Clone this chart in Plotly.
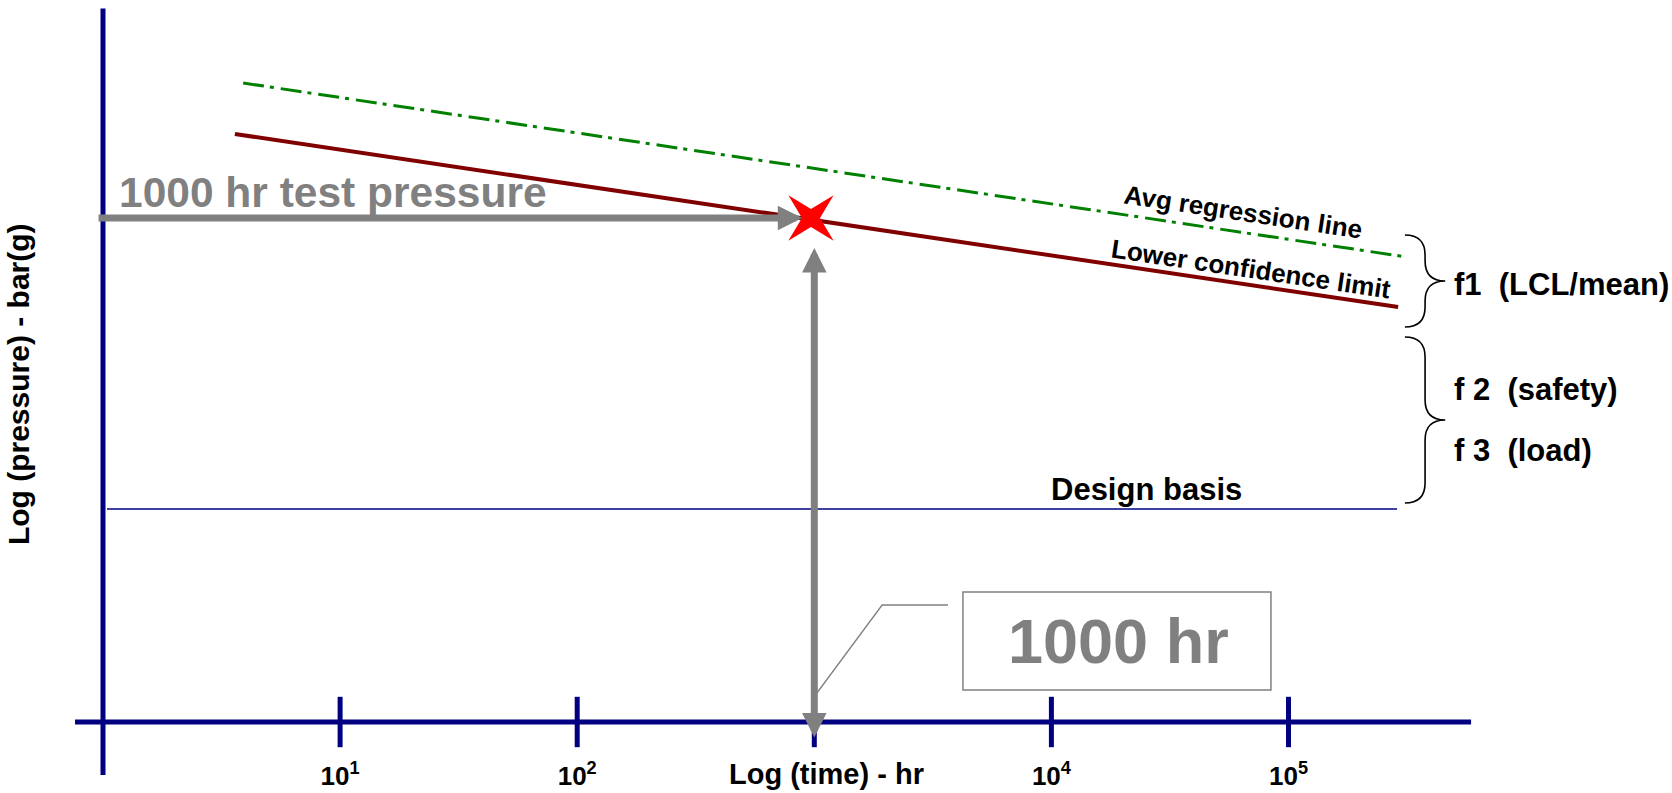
import numpy as np
import plotly.graph_objects as go

# ---------------------------------------------------------------- data
# decades on the time axis (hours) and their labels
decade_hours = [10, 100, 1000, 10000, 100000]
decade_labels = ["10<sup>1</sup>", "10<sup>2</sup>", "", "10<sup>4</sup>", "10<sup>5</sup>"]

# average regression line and lower confidence limit (relative log pressure)
avg_hours = [3.9, 315000]
avg_logp = [6.39, 4.65]
lcl_hours = [3.6, 290000]
lcl_logp = [5.88, 4.15]

# 1000 hr test point
test_hours = 1000
test_logp = 5.04

# design basis level
design_hours = [1.04, 287000]
design_logp = 2.13

# ---------------------------------------------------------------- style
NAVY = "#000080"
GREY = "#808080"
FONT = "Liberation Sans, Arial, sans-serif"

# plot scale: pixels per decade of time and per unit of log pressure
PX_X = 237.1
PX_Y = 100.0

lx = np.log10  # the horizontal axis is log(time)

fig = go.Figure()

# tick marks crossing the time axis
fig.add_trace(go.Scatter(
    x=lx(decade_hours), y=[0] * len(decade_hours), mode="markers",
    marker=dict(symbol="line-ns-open", size=36, color=NAVY,
                line=dict(width=5, color=NAVY)),
    hoverinfo="skip", showlegend=False))

# decade labels (the 1000 hr decade carries the axis title instead)
lab_x = [lx(h) for h, t in zip(decade_hours, decade_labels) if t]
lab_t = [f"<b>{t}</b>" for t in decade_labels if t]
fig.add_trace(go.Scatter(
    x=lab_x, y=[-0.56] * len(lab_x), mode="text", text=lab_t,
    textfont=dict(family=FONT, size=26, color="black"),
    hoverinfo="skip", showlegend=False))

# average regression line
fig.add_trace(go.Scatter(
    x=lx(avg_hours), y=avg_logp, mode="lines",
    line=dict(color="#008000", width=3, dash="21px,6px,4px,7px"),
    hoverinfo="skip", showlegend=False))

# lower confidence limit
fig.add_trace(go.Scatter(
    x=lx(lcl_hours), y=lcl_logp, mode="lines",
    line=dict(color="#800000", width=4),
    hoverinfo="skip", showlegend=False))


def star_path(xc, yc, r_out=32.0, r_in=9.0):
    """Four-pointed star (points on the diagonals) around a data point,
    sized in screen pixels."""
    pts = []
    for k in range(8):
        ang = np.pi / 4 + k * np.pi / 4
        r = r_out if k % 2 == 0 else r_in
        pts.append((xc + r * np.cos(ang) / PX_X, yc + r * np.sin(ang) / PX_Y))
    return "M " + " L ".join(f"{x:.5f},{y:.5f}" for x, y in pts) + " Z"


def brace(x_left, y_top, y_bot, width=0.17, r=0.2):
    """Right-facing curly brace as an SVG path in data units."""
    xm = x_left + width / 2
    xt = x_left + width
    ym = (y_top + y_bot) / 2
    return (f"M {x_left},{y_top} Q {xm},{y_top} {xm},{y_top - r} "
            f"L {xm},{ym + r} Q {xm},{ym} {xt},{ym} "
            f"Q {xm},{ym} {xm},{ym - r} "
            f"L {xm},{y_bot + r} Q {xm},{y_bot} {x_left},{y_bot}")


shapes = [
    # axes
    dict(type="line", x0=0, x1=0, y0=-0.53, y1=7.135,
         line=dict(color=NAVY, width=5), layer="below"),
    dict(type="line", x0=-0.118, x1=5.77, y0=0, y1=0,
         line=dict(color=NAVY, width=5), layer="below"),
    # design basis
    dict(type="line", x0=lx(design_hours[0]), x1=lx(design_hours[1]),
         y0=design_logp, y1=design_logp,
         line=dict(color=NAVY, width=1.6), layer="below"),
    # braces
    dict(type="path", path=brace(5.491, 4.87, 3.95),
         line=dict(color="black", width=1.6)),
    dict(type="path", path=brace(5.491, 3.85, 2.19),
         line=dict(color="black", width=1.6)),
    # callout box and leader
    dict(type="rect", x0=3.627, x1=4.926, y0=0.32, y1=1.30,
         line=dict(color=GREY, width=1.5)),
    dict(type="path", path="M 3.564,1.17 L 3.286,1.17 L 3.011,0.29",
         line=dict(color=GREY, width=1.3)),
    # test point star
    dict(type="path", path=star_path(lx(test_hours) - 0.014, test_logp),
         fillcolor="#FF0000", line=dict(width=0), layer="above"),
]


def label(text, x, y, size, color="black", angle=0, xanchor="center"):
    return dict(text=f"<b>{text}</b>", x=x, y=y, xref="x", yref="y",
                showarrow=False, textangle=angle, xanchor=xanchor,
                yanchor="middle",
                font=dict(family=FONT, size=size, color=color))


NB = "\u00a0"
annotations = [
    label("1000 hr test pressure", 0.06, 5.30, 42.5, GREY, xanchor="left"),
    label("Avg regression line", 4.808, 5.10, 26, angle=8.5),
    label("Lower confidence limit", 4.842, 4.53, 26, angle=8.4),
    label("Design basis", 4.403, 2.33, 31),
    label(f"f1{NB}{NB}(LCL/mean)", 5.69, 4.38, 31, xanchor="left"),
    label(f"f 2{NB}{NB}(safety)", 5.69, 3.33, 31, xanchor="left"),
    label(f"f 3{NB}{NB}(load)", 5.69, 2.72, 31, xanchor="left"),
    label("1000 hr", 4.281, 0.81, 63, GREY),
    label("Log (time) - hr", 3.05, -0.52, 29),
    label("Log (pressure) - bar(g)", -0.358, 3.38, 30, angle=-90),
    # arrow from the pressure axis to the test point
    dict(x=lx(test_hours), y=test_logp, ax=-0.025, ay=test_logp,
         xref="x", yref="y", axref="x", ayref="y", text="",
         showarrow=True, arrowhead=2, arrowsize=0.7, arrowwidth=7,
         arrowcolor=GREY, standoff=12),
    # double arrow between the time axis and the test point
    dict(x=lx(test_hours), y=test_logp, ax=lx(test_hours), ay=-0.17,
         xref="x", yref="y", axref="x", ayref="y", text="",
         showarrow=True, arrowhead=2, startarrowhead=2, arrowside="end+start",
         arrowsize=0.7, startarrowsize=0.7, arrowwidth=7,
         arrowcolor=GREY, standoff=30, startstandoff=0),
]

fig.update_layout(
    width=1672, height=793, autosize=False,
    margin=dict(l=0, r=0, t=0, b=0),
    paper_bgcolor="white", plot_bgcolor="white",
    xaxis=dict(range=[-103 / PX_X, (1672 - 103) / PX_X], visible=False,
               fixedrange=True),
    yaxis=dict(range=[-71 / PX_Y, 722 / PX_Y], visible=False, fixedrange=True),
    shapes=shapes, annotations=annotations,
    showlegend=False,
)

fig.write_html("out.html")
